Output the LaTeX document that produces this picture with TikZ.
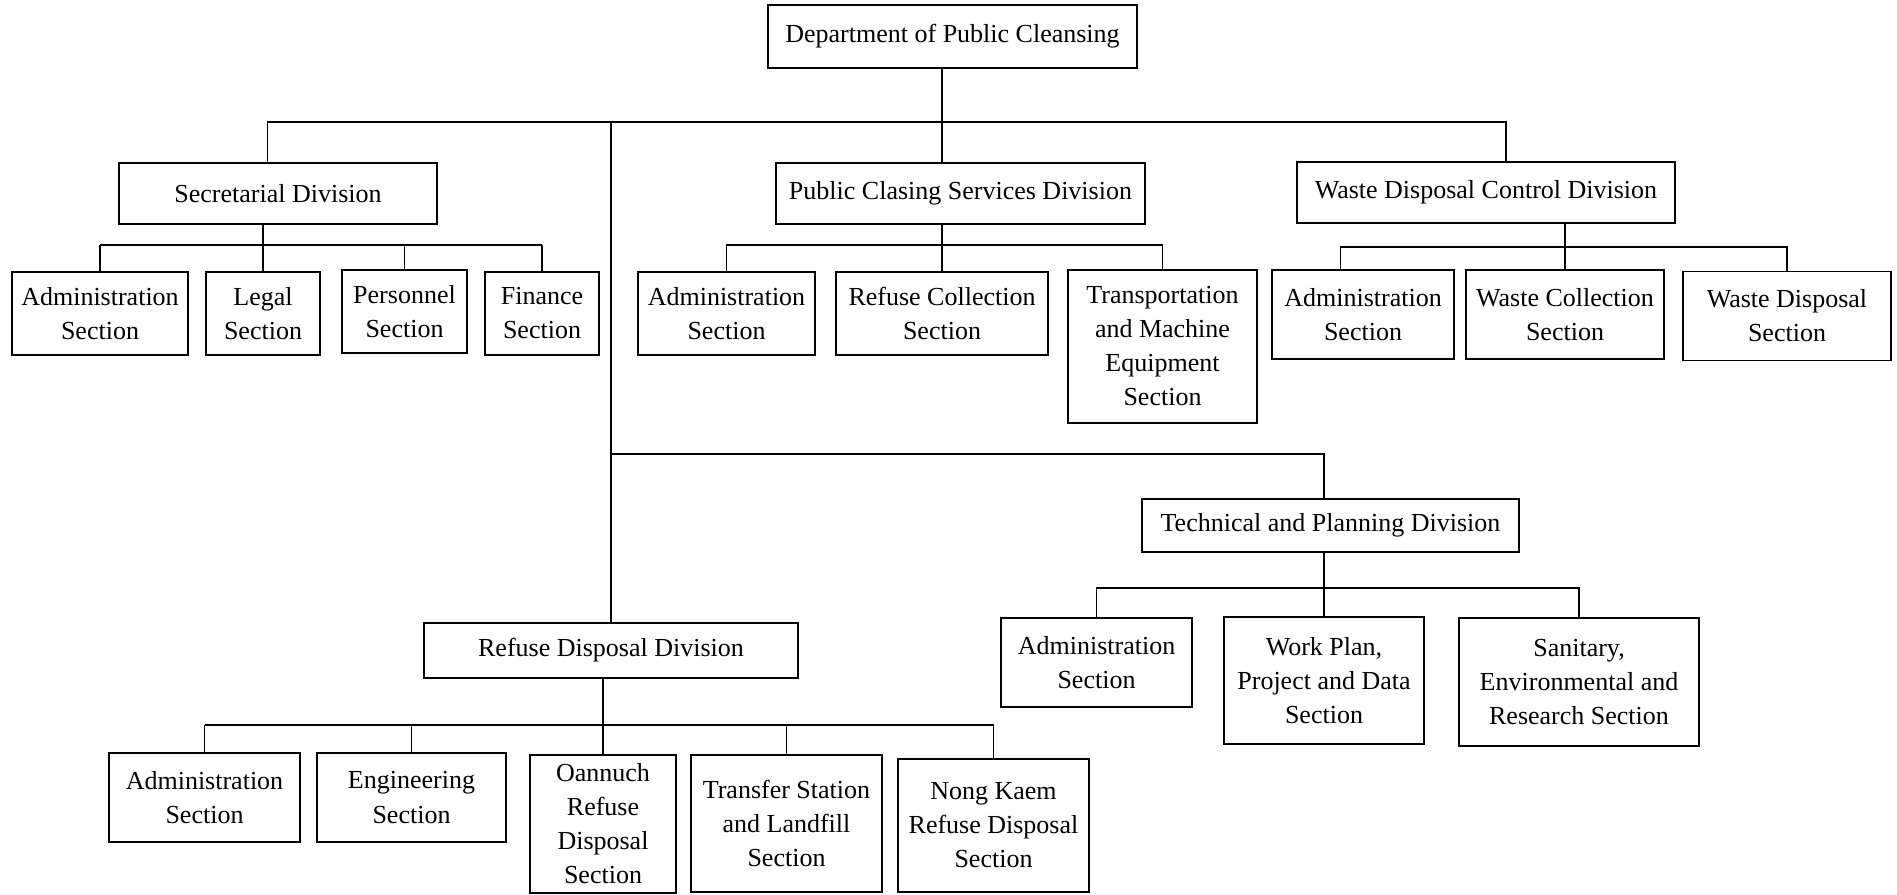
\documentclass[tikz,border=0pt]{standalone}
\usepackage{fontspec}
\setmainfont{Liberation Serif}
\tikzset{
  box/.style={draw, line width=1.1pt, align=center, inner sep=0pt,
    font=\fontsize{19.5}{25.5}\selectfont},
  sz/.style 2 args={minimum width=#1*0.75pt, minimum height=#2*0.75pt},
  link/.style={line width=1.1pt}
}
\begin{document}
\begin{tikzpicture}[x=0.75pt,y=0.75pt,yscale=-1,xscale=1]
\useasboundingbox (0,0) rectangle (1897,894);
% bus levels
\coordinate (mainbus) at (0,122);
\coordinate (secbus) at (0,245);
\coordinate (pcsbus) at (0,245);
\coordinate (wdcbus) at (0,247);
\coordinate (techbr) at (0,454);
\coordinate (tpbus) at (0,588);
\coordinate (rdbus) at (0,725);

% Department
\node [box, sz={369}{63}] (dept) at (952.5,36.5) {Department of Public Cleansing};

% Divisions
\node [box, sz={318}{61}] (sec) at (278,193.5) {Secretarial Division};
\node [box, sz={369}{61}] (pcs) at (960.5,193.5) {Public Clasing Services Division};
\node [box, sz={378}{61}] (wdc) at (1486,192.5) {Waste Disposal Control Division};
\node [box, sz={374}{55}] (rd) at (611,650.5) {Refuse Disposal Division};
\node [box, sz={377}{53}] (tp) at (1330.5,525.5) {Technical and Planning Division};

% Secretarial sections
\node [box, sz={176}{83}] (sAdm) at (100,313.5) {Administration\\Section};
\node [box, sz={114}{83}] (sLeg) at (263,313.5) {Legal\\Section};
\node [box, sz={125}{83}] (sPer) at (404.5,311.5) {Personnel\\Section};
\node [box, sz={114}{83}] (sFin) at (542,313.5) {Finance\\Section};

% Public cleansing services sections
\node [box, sz={177}{83}] (pAdm) at (726.5,313.5) {Administration\\Section};
\node [box, sz={212}{83}] (pRef) at (942,313.5) {Refuse Collection\\Section};
\node [box, sz={189}{153}] (pTra) at (1162.5,346.5) {Transportation\\and Machine\\Equipment\\Section};

% Waste disposal control sections
\node [box, sz={182}{89}] (wAdm) at (1363,314.5) {Administration\\Section};
\node [box, sz={198}{89}] (wCol) at (1565,314.5) {Waste Collection\\Section};
\node [box, sz={208}{89}] (wDis) at (1787,316) {Waste Disposal\\Section};

% Refuse disposal sections
\node [box, sz={191}{89}] (rAdm) at (204.5,797.5) {Administration\\Section};
\node [box, sz={189}{89}] (rEng) at (411.5,797.5) {Engineering\\Section};
\node [box, sz={146}{138}] (rOan) at (603,824) {Oannuch\\Refuse\\Disposal\\Section};
\node [box, sz={191}{137}] (rTra) at (786.5,823.5) {Transfer Station\\and Landfill\\Section};
\node [box, sz={191}{133}] (rNon) at (993.5,825.5) {Nong Kaem\\Refuse Disposal\\Section};

% Technical and planning sections
\node [box, sz={191}{89}] (tAdm) at (1096.5,662.5) {Administration\\Section};
\node [box, sz={200}{127}] (tWor) at (1324,680.5) {Work Plan,\\Project and Data\\Section};
\node [box, sz={240}{128}] (tSan) at (1579,682) {Sanitary,\\Environmental and\\Research Section};

% top level lines
\coordinate (secTop) at ([xshift=-8pt]sec.north);
\coordinate (wdcTop) at ([xshift=15pt]wdc.north);
\draw [link] (pRef.north |- dept.south) -- (pRef.north |- pcs.north);
\draw [link] (secTop) -- (secTop |- mainbus) -- (wdcTop |- mainbus) -- (wdcTop);
\draw [link] (rd.north |- mainbus) -- (rd.north);
\draw [link] (rd.north |- techbr) -- (tWor.north |- techbr) -- (tWor.north |- tp.north);

% secretarial
\draw [link] (sLeg.north |- sec.south) -- (sLeg.north);
\draw [link] (sAdm.north |- secbus) -- (sFin.north |- secbus);
\foreach \c in {sAdm,sPer,sFin}
  \draw [link] (\c.north) -- (\c.north |- secbus);

% public cleansing services
\draw [link] (pRef.north |- pcs.south) -- (pRef.north);
\draw [link] (pAdm.north) -- (pAdm.north |- pcsbus) -- (pTra.north |- pcsbus) -- (pTra.north);

% waste disposal control
\coordinate (wAdmTop) at ([xshift=-17pt]wAdm.north);
\draw [link] (wCol.north |- wdc.south) -- (wCol.north);
\draw [link] (wAdmTop) -- (wAdmTop |- wdcbus) -- (wDis.north |- wdcbus) -- (wDis.north);

% refuse disposal
\draw [link] (rOan.north |- rd.south) -- (rOan.north);
\draw [link] (rAdm.north |- rdbus) -- (rNon.north |- rdbus);
\foreach \c in {rAdm,rEng,rTra,rNon}
  \draw [link] (\c.north) -- (\c.north |- rdbus);

% technical and planning
\draw [link] (tWor.north |- tp.south) -- (tWor.north);
\draw [link] (tAdm.north) -- (tAdm.north |- tpbus) -- (tSan.north |- tpbus) -- (tSan.north);
\end{tikzpicture}
\end{document}
